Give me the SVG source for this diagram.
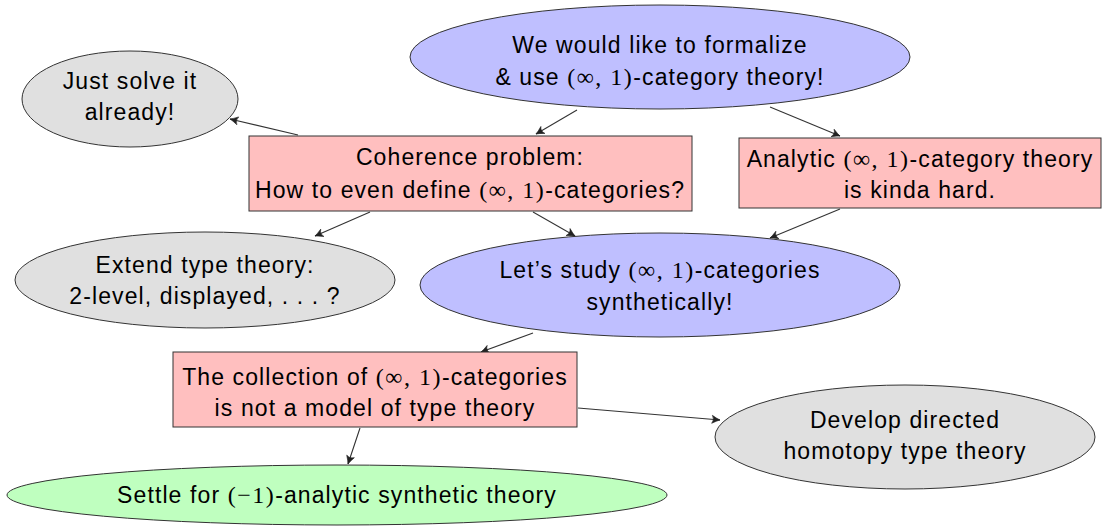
<svg xmlns="http://www.w3.org/2000/svg" width="1106" height="526" viewBox="0 0 1106 526">
<defs>
<style>
.t{font-family:"Liberation Sans","DejaVu Sans",sans-serif;font-size:23px;letter-spacing:1.1px;fill:#000;text-anchor:middle}
.m{font-family:"Liberation Serif","DejaVu Serif",serif;font-size:24px;letter-spacing:1.5px}
.blue{fill:#bfbfff;stroke:#333;stroke-width:1}
.gray{fill:#e0e0e0;stroke:#333;stroke-width:1}
.pink{fill:#ffbfbf;stroke:#333;stroke-width:1}
.green{fill:#bfffbf;stroke:#333;stroke-width:1}
.e{stroke:#333;stroke-width:1.1;fill:none;marker-end:url(#ah)}
</style>
<marker id="ah" viewBox="-10 -6 12 12" markerWidth="12" markerHeight="12" refX="0" refY="0" orient="auto" markerUnits="userSpaceOnUse">
<path d="M-8,-4 Q-3,-1 0,0 Q-3,1 -8,4 Q-5,0 -8,-4 Z" fill="#222" stroke="#222" stroke-width="0.6"/>
</marker>
</defs>
<g id="connectors">
<line class="e" x1="577" y1="110" x2="536" y2="134"/>
<line class="e" x1="770" y1="107" x2="840" y2="136"/>
<line class="e" x1="298" y1="135" x2="230" y2="119"/>
<line class="e" x1="370" y1="212" x2="315" y2="236"/>
<line class="e" x1="533" y1="212" x2="575" y2="236"/>
<line class="e" x1="840" y1="209" x2="770" y2="238"/>
<line class="e" x1="533" y1="333" x2="481" y2="352"/>
<line class="e" x1="578" y1="408" x2="720" y2="420"/>
<line class="e" x1="360" y1="428" x2="348" y2="464"/>
</g>
<g id="n-formalize">
<ellipse class="blue" cx="660" cy="57" rx="250" ry="52"/>
<text class="t" x="660" y="53">We would like to formalize</text>
<text class="t" x="660" y="85">&amp; use <tspan class="m">(∞, 1)</tspan>-category theory!</text>
</g>
<g id="n-solve">
<ellipse class="gray" cx="130" cy="99" rx="108" ry="48"/>
<text class="t" x="130" y="89">Just solve it</text>
<text class="t" x="130" y="120">already!</text>
</g>
<g id="n-coherence">
<rect class="pink" x="249" y="136" width="443" height="75"/>
<text class="t" x="470" y="165">Coherence problem:</text>
<text class="t" x="470" y="198">How to even define <tspan class="m">(∞, 1)</tspan>-categories?</text>
</g>
<g id="n-analytic">
<rect class="pink" x="739" y="138" width="362" height="70"/>
<text class="t" x="920" y="167">Analytic <tspan class="m">(∞, 1)</tspan>-category theory</text>
<text class="t" x="920" y="198">is kinda hard.</text>
</g>
<g id="n-extend">
<ellipse class="gray" cx="205" cy="280" rx="190" ry="48"/>
<text class="t" x="205" y="273">Extend type theory:</text>
<text class="t" x="205" y="304">2-level, displayed, . . . ?</text>
</g>
<g id="n-synthetic">
<ellipse class="blue" cx="660" cy="285" rx="240" ry="52"/>
<text class="t" x="660" y="278">Let’s study <tspan class="m">(∞, 1)</tspan>-categories</text>
<text class="t" x="660" y="310">synthetically!</text>
</g>
<g id="n-collection">
<rect class="pink" x="173" y="352" width="404" height="75"/>
<text class="t" x="375" y="385">The collection of <tspan class="m">(∞, 1)</tspan>-categories</text>
<text class="t" x="375" y="416">is not a model of type theory</text>
</g>
<g id="n-directed">
<ellipse class="gray" cx="905" cy="437" rx="190" ry="52"/>
<text class="t" x="905" y="428">Develop directed</text>
<text class="t" x="905" y="459">homotopy type theory</text>
</g>
<g id="n-settle">
<ellipse class="green" cx="337" cy="495" rx="330" ry="30"/>
<text class="t" x="337" y="503">Settle for <tspan class="m">(−1)</tspan>-analytic synthetic theory</text>
</g>
</svg>
